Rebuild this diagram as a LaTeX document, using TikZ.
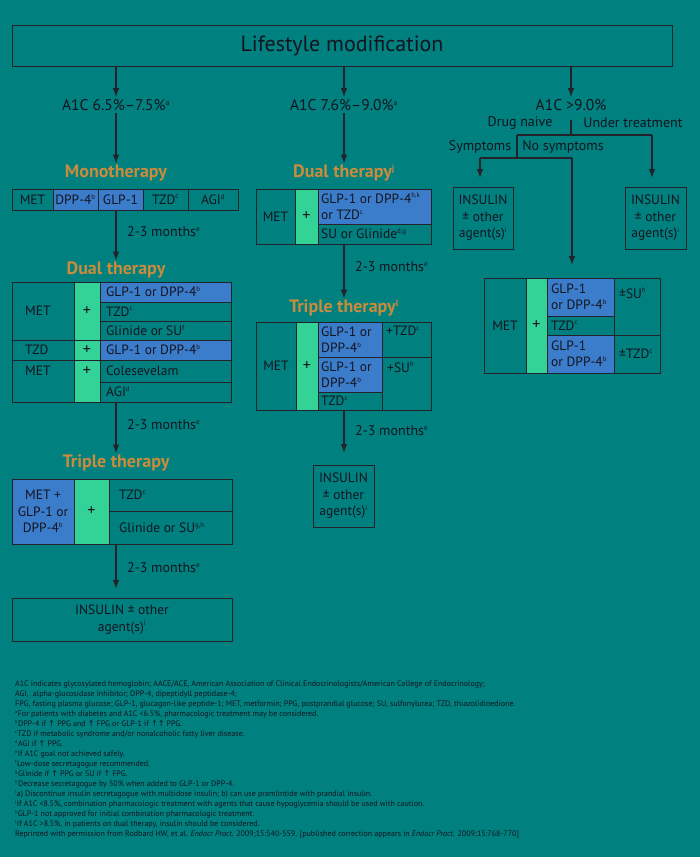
\documentclass[tikz,border=0pt]{standalone}
\usepackage{fontspec}
\setmainfont{PT Sans}
\newfontfamily\symf{DejaVu Sans}
\usetikzlibrary{arrows.meta}
\definecolor{bgteal}{HTML}{00807E}
\definecolor{bluec}{HTML}{3C7DCB}
\definecolor{greenc}{HTML}{33D296}
\definecolor{orangec}{HTML}{C98B3C}
\definecolor{linec}{HTML}{22222A}
\definecolor{textc}{HTML}{141420}
\newcommand\cellbox[7]{\pgfmathsetmacro\cbw{#4-#2}\pgfmathsetmacro\cbh{#5-#3}\node[cellst,fill=#6,minimum width=\cbw pt,minimum height=\cbh pt,anchor=north west] (#1) at (#2,#3) {#7};}
\newcommand\up{{\symf ↑}}
\newcommand\spx[1]{\textsuperscript{\scalebox{0.72}{#1}}}
\newcommand\pls{{\fontsize{16}{16}\selectfont +}}
\begin{document}
\begin{tikzpicture}[x=1pt,y=-1pt,
  every node/.style={text=textc},
  cellst/.style={draw=linec, line width=0.9pt, inner sep=0pt, outer sep=0pt, font=\fontsize{13.5}{16.5}\selectfont, align=center},
  ctext/.style={inner sep=0pt, font=\fontsize{13.5}{16.5}\selectfont, align=left},
  lvl/.style={font=\fontsize{15.5}{17}\selectfont, inner sep=2pt},
  ttl/.style={font=\bfseries\fontsize{18}{20}\selectfont, text=orangec, inner sep=1pt},
  mo/.style={font=\fontsize{14}{15}\selectfont, inner sep=0pt, anchor=west},
  lab/.style={font=\fontsize{14}{15}\selectfont, inner sep=0pt},
  arr/.style={draw=linec, line width=1.3pt, -{Latex[length=9pt,width=6.5pt]}},
  ln/.style={draw=linec, line width=1.3pt}]
\fill[bgteal] (0,0) rectangle (700,857);
\useasboundingbox (0,0) rectangle (700,857);

% top box
\cellbox{life}{12}{25}{672}{66}{bgteal}{\fontsize{22}{24}\selectfont Lifestyle modification}

% ---------- column 1 ----------
\node[lvl] (a1) at (116,105) {A1C 6.5\%–7.5\%\spx{a}};
\node[ttl] (mono) at (116,173) {Monotherapy};
\cellbox{m1}{12}{189}{53}{210}{bgteal}{MET}
\cellbox{m2}{53}{189}{98}{210}{bluec}{DPP-4\spx{b}}
\cellbox{m3}{98}{189}{143}{210}{bluec}{GLP-1}
\cellbox{m4}{143}{189}{188}{210}{bgteal}{TZD\spx{c}}
\cellbox{m5}{188}{189}{238}{210}{bgteal}{AGI\spx{d}}
\node[mo] (mo1) at (127,232) {2-3 months\spx{e}};
\node[ttl] (dual1) at (116,270) {Dual therapy};

\cellbox{d1a}{12}{282}{74}{340}{bgteal}{}
\cellbox{d1p}{74}{282}{100}{340}{greenc}{\pls}
\cellbox{d1b}{100}{282}{231}{302}{bluec}{}
\cellbox{d1c}{100}{302}{231}{321}{bgteal}{}
\cellbox{d1d}{100}{321}{231}{340}{bgteal}{}
\cellbox{d1e}{12}{340}{74}{360}{bgteal}{}
\cellbox{d1f}{74}{340}{100}{360}{greenc}{\pls}
\cellbox{d1g}{100}{340}{231}{360}{bluec}{}
\cellbox{d1h}{12}{360}{74}{402}{bgteal}{}
\cellbox{d1i}{74}{360}{100}{402}{greenc}{}
\cellbox{d1j}{100}{360}{231}{382}{bgteal}{}
\cellbox{d1k}{100}{382}{231}{402}{bgteal}{}
\node[ctext,anchor=west] (d1a-t) at ([xshift=13pt]d1a.west) {MET};
\node[ctext,anchor=west] (d1b-t) at ([xshift=6pt]d1b.west) {GLP-1 or DPP-4\spx{b}};
\node[ctext,anchor=west] (d1c-t) at ([xshift=6pt]d1c.west) {TZD\spx{c}};
\node[ctext,anchor=west] (d1d-t) at ([xshift=6pt]d1d.west) {Glinide or SU\spx{f}};
\node[ctext,anchor=west] (d1e-t) at ([xshift=13pt]d1e.west) {TZD};
\node[ctext,anchor=west] (d1g-t) at ([xshift=6pt]d1g.west) {GLP-1 or DPP-4\spx{b}};
\node[ctext,anchor=west] (d1h-t) at ([xshift=13pt]d1h.west |- d1j.center) {MET};
\node[ctext] (d1i-t) at (d1i.center |- d1j.center) {\pls};
\node[ctext,anchor=west] (d1j-t) at ([xshift=6pt]d1j.west) {Colesevelam};
\node[ctext,anchor=west] (d1k-t) at ([xshift=6pt]d1k.west) {AGI\spx{d}};
\node[mo] (mo2) at (127,425) {2-3 months\spx{e}};
\node[ttl] (tri1) at (116,463) {Triple therapy};

\cellbox{t1a}{12}{479}{74}{544}{bluec}{MET +\\GLP-1 or\\DPP-4\spx{b}}
\cellbox{t1b}{74}{479}{109}{544}{greenc}{\pls}
\cellbox{t1c}{109}{479}{232}{511}{bgteal}{}
\cellbox{t1d}{109}{511}{232}{544}{bgteal}{}
\node[ctext,anchor=west] (t1c-t) at ([xshift=10pt]t1c.west) {TZD\spx{c}};
\node[ctext,anchor=west] (t1d-t) at ([xshift=10pt]t1d.west) {Glinide or SU\spx{g,h}};
\node[mo] (mo3) at (127,568) {2-3 months\spx{e}};
\cellbox{ins1}{12}{598}{232}{641}{bgteal}{INSULIN ± other\\agent(s)\spx{i}}

\draw[arr] (life.south -| a1) -- (a1.north);
\draw[arr] (a1.south) -- (mono.north);
\draw[arr] (m3.south -| a1) -- (dual1.north);
\draw[arr] (d1k.south -| a1) -- (tri1.north);
\draw[arr, shorten >=9pt] (t1d.south -| a1) -- (ins1.north -| a1);

% ---------- column 2 ----------
\node[lvl] (a2) at (344,105) {A1C 7.6\%–9.0\%\spx{a}};
\node[ttl] (dual2) at (344,173) {Dual therapy\spx{j}};
\cellbox{e1}{256}{189}{295}{244}{bgteal}{MET}
\cellbox{e2}{295}{189}{318}{244}{greenc}{\pls}
\cellbox{e3}{318}{189}{431}{224}{bluec}{}
\cellbox{e4}{318}{224}{431}{244}{bgteal}{}
\node[ctext,anchor=west] (e3-t) at ([xshift=3pt]e3.west) {GLP-1 or DPP-4\spx{b,k}\\or TZD\spx{c}};
\node[ctext,anchor=west] (e4-t) at ([xshift=3pt]e4.west) {SU or Glinide\spx{d,g}};
\node[mo] (mo4) at (355,267) {2-3 months\spx{e}};
\node[ttl] (tri2) at (344,308) {Triple therapy\spx{l}};
\cellbox{f1}{256}{322}{296}{410}{bgteal}{MET}
\cellbox{f2}{296}{322}{318}{410}{greenc}{\pls}
\cellbox{f3}{318}{322}{382}{357}{bluec}{}
\cellbox{f4}{318}{357}{382}{392}{bluec}{}
\cellbox{f5}{318}{392}{382}{410}{bgteal}{}
\cellbox{f6}{382}{322}{431}{357}{bgteal}{}
\cellbox{f7}{382}{357}{431}{410}{bgteal}{}
\node[ctext,anchor=west] (f3-t) at ([xshift=3pt]f3.west) {GLP-1 or\\DPP-4\spx{b}};
\node[ctext,anchor=west] (f4-t) at ([xshift=3pt]f4.west) {GLP-1 or\\DPP-4\spx{b}};
\node[ctext,anchor=west] (f5-t) at ([xshift=3pt]f5.west) {TZD\spx{c}};
\node[ctext,anchor=north west] (f6-t) at ([xshift=4pt,yshift=-4pt]f6.north west) {+TZD\spx{c}};
\node[ctext,anchor=north west] (f7-t) at ([xshift=5pt,yshift=-5pt]f7.north west) {+SU\spx{h}};
\node[mo] (mo5) at (355,431) {2-3 months\spx{e}};
\cellbox{ins2}{313}{465}{374}{527}{bgteal}{INSULIN\\± other\\agent(s)\spx{i}}

\draw[arr] (life.south -| a2) -- (a2.north);
\draw[arr] (a2.south) -- (dual2.north);
\draw[arr] (e4.south -| a2) -- (tri2.north);
\draw[arr, shorten >=12pt] (f5.south -| a2) -- (ins2.north -| a2);

% ---------- column 3 ----------
\node[lvl] (a3) at (571,105) {A1C >9.0\%};
\node[lab] (dn) at (520,123) {Drug naive};
\node[lab] (ut) at (633,123) {Under treatment};
\node[lab] (sy) at (480,147) {Symptoms};
\node[lab] (ns) at (563,147) {No symptoms};
\coordinate (j0t) at (571,120);
\coordinate (j0) at (571,135);
\coordinate (jl) at (517,135);
\coordinate (jr) at (652,135);
\coordinate (jl2) at (517,158);
\coordinate (k1) at (480,158);
\coordinate (k2) at (572,158);
\cellbox{ins3}{453}{187}{513}{249}{bgteal}{INSULIN\\± other\\agent(s)\spx{i}}
\cellbox{ins4}{625}{187}{686}{249}{bgteal}{INSULIN\\± other\\agent(s)\spx{i}}
\cellbox{g1}{484}{278}{526}{373}{bgteal}{MET}
\cellbox{g2}{526}{278}{547}{373}{greenc}{\pls}
\cellbox{g3}{547}{278}{614}{316}{bluec}{}
\cellbox{g4}{547}{316}{614}{335}{bgteal}{}
\cellbox{g5}{547}{335}{614}{373}{bluec}{}
\cellbox{g6}{614}{278}{660}{335}{bgteal}{}
\cellbox{g7}{614}{335}{660}{373}{bgteal}{}
\node[ctext,anchor=west] (g3-t) at ([xshift=4pt]g3.west) {GLP-1\\or DPP-4\spx{b}};
\node[ctext,anchor=west] (g4-t) at ([xshift=4pt]g4.west) {TZD\spx{c}};
\node[ctext,anchor=west] (g5-t) at ([xshift=4pt]g5.west) {GLP-1\\or DPP-4\spx{b}};
\node[ctext,anchor=north west] (g6-t) at ([xshift=5pt,yshift=-10pt]g6.north west) {±SU\spx{h}};
\node[ctext,anchor=west] (g7-t) at ([xshift=5pt]g7.west) {±TZD\spx{c}};

\draw[arr] (life.south -| a3) -- (a3.north);
\draw[ln] (j0t) -- (j0);
\draw[ln] (jl) -- (jr);
\draw[arr, shorten >=9pt] (jr) -- (ins4.north -| jr);
\draw[ln] (jl) -- (jl2);
\draw[ln] (k1) -- (k2);
\draw[arr, shorten >=9pt] (k1) -- (ins3.north -| k1);
\draw[arr, shorten >=13pt] (k2) -- (g3.north -| k2);

% ---------- footnotes ----------
\node[anchor=north west, align=left, inner sep=0pt, font=\fontsize{8}{9.95}\selectfont] (notes) at (15,681) {%
A1C indicates glycosylated hemoglobin; AACE/ACE, American Association of Clinical Endocrinologists/American College of Endocrinology;\\
AGI,\ \ alpha-glucosidase inhibitor; DPP-4, dipeptidyll peptidase-4;\\
FPG, fasting plasma glucose; GLP-1, glucagon-like peptide-1; MET, metformin; PPG, postprandial glucose; SU, sulfonylurea; TZD, thiazolidinedione.\\
\spx{a}For patients with diabetes and A1C <6.5\%, pharmacologic treatment may be considered.\\
\spx{b}DPP-4 if \up{} PPG and \up{} FPG or GLP-1 if \up\up{} PPG.\\
\spx{c}TZD if metabolic syndrome and/or nonalcoholic fatty liver disease.\\
\spx{d}AGI if \up{} PPG.\\
\spx{e}If A1C goal not achieved safely.\\
\spx{f}Low-dose secretagogue recommended.\\
\spx{g}Glinide if \up{} PPG or SU if \up{} FPG.\\
\spx{h}Decrease secretagogue by 50\% when added to GLP-1 or DPP-4.\\
\spx{i}a) Discontinue insulin secretagogue with multidose insulin; b) can use pramlintide with prandial insulin.\\
\spx{j}If A1C <8.5\%, combination pharmacologic treatment with agents that cause hypoglycemia should be used with caution.\\
\spx{k}GLP-1 not approved for initial combination pharmacologic treatment.\\
\spx{l}If A1C >8.5\%, in patients on dual therapy, insulin should be considered.\\
Reprinted with permission from Rodbard HW, et al. \textit{Endocr Pract.} 2009;15:540-559. [published correction appears in \textit{Endocr Pract.} 2009;15:768-770]};
\end{tikzpicture}
\end{document}
